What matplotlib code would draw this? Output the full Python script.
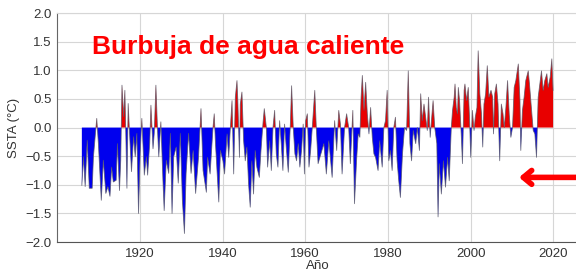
import numpy as np
import matplotlib
matplotlib.use("Agg")
import matplotlib.pyplot as plt

plt.rcParams['font.family'] = ['Liberation Sans', 'DejaVu Sans']

# Anomalía de temperatura superficial del mar (SSTA)
anos_1 = [1906.0, 1906.4, 1906.8, 1907.3, 1907.8, 1908.5, 1908.8, 1909.6, 1910.0, 1910.7,
          1911.2, 1911.8, 1912.3, 1912.8, 1913.2, 1913.6, 1914.3, 1914.6, 1915.1, 1915.4,
          1915.7, 1916.1, 1916.4, 1916.6, 1916.9, 1917.2, 1917.5, 1918.0, 1918.5, 1918.9,
          1919.3, 1919.7, 1920.1, 1920.5, 1921.1, 1921.6, 1921.9, 1922.4, 1922.7, 1923.2,
          1923.5, 1923.9, 1924.3, 1924.6, 1925.1, 1925.6, 1925.9, 1926.4, 1927.0, 1927.4,
          1927.8, 1928.2, 1928.8, 1929.3, 1929.8, 1930.3, 1930.8, 1931.2, 1931.8, 1932.4,
          1932.9, 1933.5]
ssta_1 = [-1.01, -0.51, -1.03, -0.22, -1.06, -1.06, -0.51, 0.16, -0.28, -1.27,
          -0.57, -1.15, -1.03, -1.20, -0.69, -0.95, -0.92, -0.28, -1.10, -0.57,
          0.74, 0.19, 0.65, -0.01, -1.06, 0.42, -0.05, -0.77, -0.16, -0.51,
          -0.10, -1.50, -0.45, 0.16, -0.83, -0.51, -0.83, -0.28, 0.39, -0.37,
          -0.10, 0.74, -0.05, -0.51, 0.10, -0.92, -1.45, -0.57, -0.80, -0.10,
          -1.50, -0.51, -0.34, -0.97, -0.10, -1.27, -1.85, -0.80, -0.10, -0.80,
          -0.40, -1.15]

anos_2 = [1934.2, 1934.8, 1935.3, 1936.1, 1936.4, 1937.0, 1937.7, 1938.0, 1938.3, 1939.1,
          1939.5, 1940.1, 1940.5, 1941.1, 1941.5, 1941.9, 1942.3, 1942.7, 1943.1, 1943.5,
          1943.7, 1944.1, 1944.3, 1944.7, 1945.1, 1945.5, 1945.9, 1946.3, 1946.7, 1947.1,
          1947.5, 1947.9, 1948.3, 1948.9, 1949.3, 1949.8, 1950.1, 1950.6, 1950.9, 1951.4,
          1951.8, 1952.2, 1952.6, 1953.0, 1953.4, 1953.8, 1954.2, 1954.6, 1955.0, 1955.4,
          1955.9, 1956.4, 1956.7, 1957.1, 1957.5, 1957.9, 1958.3, 1958.7, 1959.1, 1959.5,
          1959.8, 1960.1, 1960.5, 1960.9, 1961.3, 1961.7, 1962.3, 1962.7, 1963.1]
ssta_2 = [-0.52, 0.33, -0.75, -1.13, -0.52, -0.81, 0.00, 0.24, -0.28, -1.30,
          -0.40, -0.58, -0.81, -0.11, -0.52, 0.00, 0.47, -0.81, 0.53, 0.82,
          0.47, -0.52, 0.41, 0.62, -0.23, -0.58, -0.34, -0.98, -1.39, -0.58,
          -1.16, -0.40, -0.69, -0.87, -0.40, 0.09, 0.33, 0.00, -0.69, -0.23,
          -0.75, 0.00, 0.30, -0.46, -0.69, 0.12, -0.28, -0.75, 0.06, -0.34,
          -0.78, 0.06, 0.73, 0.00, -0.46, -0.58, -0.28, -0.69, -0.40, 0.06,
          -0.81, 0.12, 0.24, -0.69, -0.40, 0.00, 0.65, -0.05, -0.63]

anos_3 = [1964.5, 1965.1, 1965.7, 1966.5, 1967.1, 1967.6, 1968.1, 1968.5, 1968.9, 1969.5,
          1970.0, 1970.5, 1970.9, 1971.5, 1971.9, 1972.4, 1972.8, 1973.2, 1973.5, 1973.8,
          1974.2, 1974.6, 1975.0, 1975.4, 1975.8, 1976.2, 1976.6, 1977.0, 1977.6, 1978.0,
          1978.6, 1979.0, 1979.4, 1979.8, 1980.2, 1980.6, 1981.0, 1981.4, 1981.8, 1982.2,
          1982.6, 1983.0, 1983.5, 1984.0, 1984.5, 1984.9, 1985.3, 1985.7, 1986.1, 1986.7,
          1987.1, 1987.6, 1987.9, 1988.3, 1988.7, 1989.1, 1989.5, 1989.8, 1990.2, 1990.5,
          1990.9, 1991.3, 1991.8, 1992.1, 1992.4, 1992.9, 1993.4, 1993.9, 1994.4, 1994.8,
          1995.3]
ssta_3 = [-0.28, -0.81, -0.23, -0.87, 0.12, -0.40, 0.30, 0.06, -0.81, 0.00,
          0.24, 0.00, -0.63, 0.30, -1.33, -0.58, -0.11, -0.17, 0.53, 0.91,
          0.30, 0.79, 0.24, -0.11, 0.35, -0.17, -0.46, -0.52, -0.75, -0.23,
          -0.69, 0.00, 0.12, 0.65, -0.58, -0.40, -0.75, 0.00, 0.18, -0.58,
          -0.93, -1.22, -0.46, 0.00, -0.05, 0.99, -0.28, -0.58, -0.05, -0.28,
          0.00, -0.40, 0.59, 0.12, 0.41, 0.18, -0.05, 0.53, -0.17, 0.12,
          0.47, 0.00, -0.28, -1.56, -0.63, -1.16, -0.58, -1.04, -0.52, -0.93,
          0.00]

anos_4 = [1995.6, 1996.0, 1996.2, 1996.5, 1996.8, 1997.0, 1997.3, 1997.7, 1998.0, 1998.4,
          1998.6, 1999.0, 1999.4, 1999.7, 2000.0, 2000.4, 2000.8, 2001.1, 2001.5, 2001.8,
          2002.2, 2002.6, 2002.9, 2003.2, 2003.6, 2004.0, 2004.4, 2004.9, 2005.3, 2005.5,
          2005.8, 2006.2, 2006.6, 2007.0, 2007.4, 2007.8, 2008.1, 2008.5, 2008.9, 2009.3,
          2009.7, 2010.1, 2010.5, 2010.9, 2011.5, 2011.9, 2012.1, 2012.5, 2012.9, 2013.3,
          2013.9, 2014.2, 2014.7, 2015.1, 2015.5, 2015.9, 2016.3, 2016.7, 2017.1, 2017.5,
          2017.9, 2018.4, 2018.7, 2019.2, 2019.6, 2019.9]
ssta_4 = [0.30, 0.53, 0.76, 0.35, 0.24, 0.70, 0.47, -0.11, -0.63, 0.65,
          0.76, 0.47, 0.70, 0.18, -0.52, 0.30, -0.05, 0.18, 0.35, 1.34,
          0.59, 0.24, -0.34, 0.41, 0.59, 1.08, 0.53, 0.65, 0.53, -0.11,
          0.59, 0.76, 0.41, -0.58, 0.41, 0.24, 0.00, 0.35, 0.82, 0.24,
          -0.17, 0.00, 0.70, 0.82, 1.11, 0.47, -0.40, 0.30, 0.53, 0.82,
          0.99, 0.76, 0.30, -0.05, -0.11, -0.52, 0.53, 0.76, 0.99, 0.65,
          0.82, 0.94, 0.70, 0.88, 1.20, 0.65]

anos = np.array(anos_1 + anos_2 + anos_3 + anos_4)
ssta = np.array(ssta_1 + ssta_2 + ssta_3 + ssta_4)

fig = plt.figure(figsize=(5.76, 2.72), dpi=100)
ax = fig.add_axes([0.099, 0.11, 0.905, 0.842])

ax.fill_between(anos, ssta, 0, where=ssta >= 0, interpolate=True, color='#e80000', lw=0)
ax.fill_between(anos, ssta, 0, where=ssta <= 0, interpolate=True, color='#0000ee', lw=0)
ax.plot(anos, ssta, color='#555566', lw=0.6, alpha=0.8)

ax.set_xlim(1900, 2026)
ax.set_ylim(-2, 2)
ax.set_xticks([1920, 1940, 1960, 1980, 2000, 2020])
ax.set_yticks(np.arange(-2, 2.01, 0.5))
ax.grid(True, color='#d6d6d6', lw=0.8)
ax.set_axisbelow(True)
ax.tick_params(length=0, labelsize=9.5, labelcolor='#333333', pad=4)
for s in ['top', 'right']:
    ax.spines[s].set_color('#d6d6d6')
ax.spines['left'].set_color('#666666')
ax.spines['bottom'].set_color('#555555')

ax.set_xlabel('Año', fontsize=9.5, color='#333333', labelpad=0)
ax.set_ylabel('SSTA (°C)', fontsize=9.5, color='#333333', labelpad=4)

ax.text(1908.5, 1.40, 'Burbuja de agua caliente', color='#ff0000', fontsize=19,
        fontweight='bold', va='center', ha='left')

ax.annotate('', xy=(2011, -0.87), xytext=(2030, -0.87), annotation_clip=False,
            arrowprops=dict(arrowstyle='->,head_length=0.6,head_width=0.5',
                            color='#ff0000', lw=4))

fig.savefig('out.png', dpi=100)
